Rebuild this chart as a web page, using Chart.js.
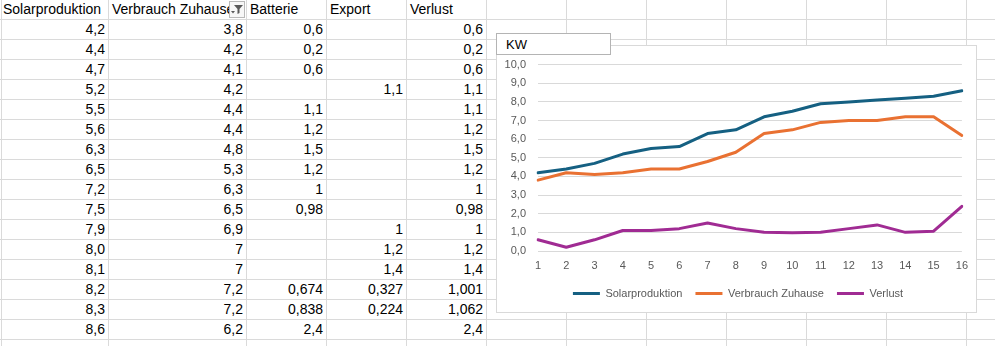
<!DOCTYPE html>
<html lang="de">
<head>
<meta charset="utf-8">
<script src="https://cdn.jsdelivr.net/npm/chart.js@4.4.1/dist/chart.umd.min.js"></script>
<style>
  body { margin: 0; width: 995px; height: 346px; overflow: hidden; background: #fff; position: relative;
         font-family: "Liberation Sans", Arial, sans-serif; }
  .zelle { position: absolute; box-sizing: border-box; border-right: 1px solid #dadada; border-bottom: 1px solid #dadada;
           font-size: 14px; line-height: 19px; white-space: nowrap; overflow: hidden; color: #000; }
  .zahl { text-align: right; padding-right: 3px; }
  .kopf { text-align: left; padding-left: 3px; }
  #linksrand { position: absolute; left: 1px; top: 0; width: 1px; height: 346px; background: #dadada; }
  #filter { position: absolute; left: 229px; top: 1px; width: 16px; height: 17px; box-sizing: border-box;
            border: 1px solid #b9b9b9; background: #f7f7f7; z-index: 2; }
  #diagramm { position: absolute; left: 496px; top: 45px; width: 481px; height: 268px; box-sizing: border-box;
              border: 1px solid #d9d9d9; background: #fff; z-index: 3; }
  #titel { position: absolute; left: 496px; top: 33px; width: 115px; height: 22px; box-sizing: border-box;
           border: 1px solid #b4b4b4; background: #fff; z-index: 4; font-size: 13px; line-height: 16px;
           padding: 3px 0 0 9px; color: #000; }
</style>
</head>
<body>
<div id="linksrand"></div>
<div id="filter">
  <svg width="14" height="15" viewBox="0 0 14 15">
    <path d="M4 3 H13 L9.5 7 V11 L7.5 12 V7 Z" fill="#595959"/>
    <path d="M1 9 H5 L3 11.5 Z" fill="#595959"/>
  </svg>
</div>
<div id="diagramm"><canvas id="grafik"></canvas></div>
<div id="titel">KW</div>

<script>
// Tabellenwerte
const spalten = ['Solarproduktion', 'Verbrauch Zuhause', 'Batterie', 'Export', 'Verlust'];
const solarproduktion = [4.2, 4.4, 4.7, 5.2, 5.5, 5.6, 6.3, 6.5, 7.2, 7.5, 7.9, 8.0, 8.1, 8.2, 8.3, 8.6];
const verbrauch = [3.8, 4.2, 4.1, 4.2, 4.4, 4.4, 4.8, 5.3, 6.3, 6.5, 6.9, 7, 7, 7.2, 7.2, 6.2];
const batterie = [0.6, 0.2, 0.6, null, 1.1, 1.2, 1.5, 1.2, 1, 0.98, null, null, null, 0.674, 0.838, 2.4];
const exportWerte = [null, null, null, 1.1, null, null, null, null, null, null, 1, 1.2, 1.4, 0.327, 0.224, null];
const verlust = [0.6, 0.2, 0.6, 1.1, 1.1, 1.2, 1.5, 1.2, 1, 0.98, 1, 1.2, 1.4, 1.001, 1.062, 2.4];
const kategorien = ['1', '2', '3', '4', '5', '6', '7', '8', '9', '10', '11', '12', '13', '14', '15', '16'];
const yTicks = [0, 1, 2, 3, 4, 5, 6, 7, 8, 9, 10];

// Tabelle (Excel-Raster) aufbauen
const breiten = [109, 138, 80, 80, 80, 80, 80, 80, 80, 80, 80, 80];
const komma = v => (v === null ? '' : String(v).replace('.', ','));
const spaltenDaten = [
    solarproduktion.map(v => v.toFixed(1).replace('.', ',')),
    verbrauch.map(komma), batterie.map(komma), exportWerte.map(komma), verlust.map(komma)
];
for (let r = 0; r < 18; r++) {
    let x = 0;
    breiten.forEach((b, c) => {
        const d = document.createElement('div');
        d.className = 'zelle ' + (r === 0 ? 'kopf' : 'zahl');
        d.style.left = x + 'px';
        d.style.top = (r * 20) + 'px';
        d.style.width = b + 'px';
        d.style.height = '20px';
        if (c < spalten.length) {
            if (r === 0) d.textContent = spalten[c];
            else if (r <= 16) d.textContent = spaltenDaten[c][r - 1];
        }
        document.body.appendChild(d);
        x += b;
    });
}

// Legende wie in Excel etwas nach rechts schieben
const legendeVersatz = {
    id: 'legendeVersatz',
    afterLayout(chart) { chart.legend.left += 17; }
};

// Diagramm
const schrift = { family: '"Liberation Sans", Arial, sans-serif', size: 11 };
new Chart(document.getElementById('grafik'), {
    type: 'line',
    data: {
        labels: kategorien,
        datasets: [
            { label: 'Solarproduktion', data: solarproduktion, borderColor: '#156082', backgroundColor: '#156082' },
            { label: 'Verbrauch Zuhause', data: verbrauch, borderColor: '#E97132', backgroundColor: '#E97132' },
            { label: 'Verlust', data: verlust, borderColor: '#A02B93', backgroundColor: '#A02B93' }
        ]
    },
    options: {
        responsive: true,
        maintainAspectRatio: false,
        animation: false,
        elements: {
            line: { borderWidth: 3, tension: 0, borderJoinStyle: 'round', borderCapStyle: 'round' },
            point: { radius: 0 }
        },
        layout: { padding: { left: 0, right: 14, top: 13, bottom: 3 } },
        plugins: {
            tooltip: { enabled: false },
            legend: {
                position: 'bottom',
                labels: {
                    boxWidth: 27, boxHeight: 3, padding: 13, color: '#595959', font: schrift,
                    generateLabels: chart => Chart.defaults.plugins.legend.labels.generateLabels(chart)
                        .map(l => Object.assign(l, { lineWidth: 0 }))
                }
            }
        },
        scales: {
            x: {
                grid: { display: false, drawTicks: false },
                border: { display: false },
                ticks: { color: '#595959', font: schrift, padding: 8, maxRotation: 0, autoSkip: false },
                afterFit: s => { s.height = 24; }
            },
            y: {
                min: 0, max: 10,
                afterBuildTicks: s => { s.ticks = yTicks.map(v => ({ value: v })); },
                ticks: { color: '#595959', font: schrift, padding: 12,
                         callback: v => v.toFixed(1).replace('.', ',') },
                grid: { color: '#d9d9d9', drawTicks: false },
                border: { display: false },
                afterFit: s => { s.width = 41; }
            }
        }
    },
    plugins: [legendeVersatz]
});
</script>
</body>
</html>
